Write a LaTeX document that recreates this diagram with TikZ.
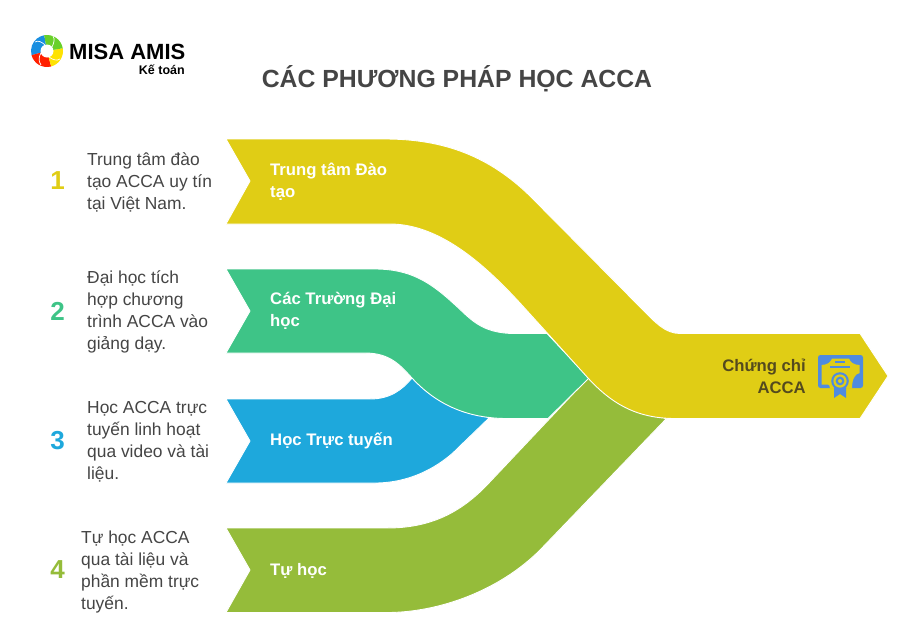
\documentclass[tikz,border=0pt]{standalone}
\usepackage{fontspec}
\setmainfont{Liberation Sans}
\definecolor{trackyellow}{HTML}{E0CD15}
\definecolor{trackgreen}{HTML}{3EC487}
\definecolor{trackblue}{HTML}{1EA8DC}
\definecolor{trackolive}{HTML}{95BC3A}
\definecolor{bodygrey}{HTML}{454545}
\definecolor{goalbrown}{HTML}{544A1E}
\definecolor{iconblue}{HTML}{4F8BE0}
\tikzset{
  track/.style={draw=white, line width=0.9pt, line join=round},
  numlabel/.style={inner sep=0pt, font=\fontsize{26}{26}\selectfont\bfseries},
  bodytext/.style={inner sep=0pt, anchor=west, align=left, text=bodygrey, font=\fontsize{17.4}{22}\selectfont},
  tracktext/.style={inner sep=0pt, anchor=west, align=left, text=white, font=\fontsize{16.7}{22}\selectfont\bfseries},
}
\begin{document}
\begin{tikzpicture}[x=1pt, y=-1pt]
    \useasboundingbox (0,0) rectangle (917,643);
    \fill[white] (0,0) rectangle (917,643);

    % Logo
    \coordinate (L) at (47,51);
    \fill[trackblue!85!blue] (L) -- ++(-100:16) arc[start angle=-100, end angle=-195, radius=16] -- cycle;
    \fill[red!75!orange] (L) -- ++(-195:16) arc[start angle=-195, end angle=-285, radius=16] -- cycle;
    \fill[yellow!85!orange] (L) -- ++(75:16) arc[start angle=75, end angle=-10, radius=16] -- cycle;
    \fill[trackolive!70!green] (L) -- ++(-10:16) arc[start angle=-10, end angle=-100, radius=16] -- cycle;
    \fill[white] (L) circle (6.5);
    \draw[white, line width=0.7pt] (35,42) .. controls (38,40) and (42,42) .. (45,45);
    \draw[white, line width=0.7pt] (53,36) .. controls (55,39) and (54,43) .. (52,47);
    \draw[white, line width=0.7pt] (60,59) .. controls (57,61) and (53,60) .. (49,57);
    \draw[white, line width=0.7pt] (41,65) .. controls (38,61) and (39,56) .. (41,53);
    \node[inner sep=0pt, anchor=west, font=\fontsize{22}{22}\selectfont\bfseries] (brand) at (69,52) {MISA AMIS};
    \node[inner sep=0pt, anchor=east, font=\fontsize{12.5}{12.5}\selectfont\bfseries] (brandsub) at (185,70) {Kế toán};

    % Title
    \node[inner sep=0pt, text=bodygrey, font=\fontsize{24.8}{26}\selectfont\bfseries] (title) at (457,79) {CÁC PHƯƠNG PHÁP HỌC ACCA};

    % Blue track
    \path[track, fill=trackblue] (226,399) -- (250,441) -- (226,483) -- (375,483)
        .. controls (410,483) and (440,467) .. (460,446) -- (489,418)
        -- (440,395) -- (412,378) .. controls (402,390) and (390,399) .. (370,399) -- cycle;

    % Olive track
    \path[track, fill=trackolive] (226,528) -- (250,570) -- (226,612.5) -- (387,612.5)
        .. controls (440,612.5) and (500,590) .. (540,550) -- (666,419)
        -- (588,378) -- (487,485) .. controls (460,513) and (430,528) .. (387,528) -- cycle;

    % Green track
    \path[track, fill=trackgreen] (226,269) -- (250,311) -- (226,353) -- (365,353)
        .. controls (390,353) and (400,365) .. (412,378)
        .. controls (435,403) and (465,418) .. (505,418.5) -- (548,418.5) -- (589,378) -- (547,333.5) -- (515,333.5)
        .. controls (480,333.5) and (470,318) .. (453,303)
        .. controls (430,282) and (410,269) .. (375,269) -- cycle;

    % Yellow track
    \path[track, fill=trackyellow] (226,139) -- (250,181) -- (226,224) -- (390,224)
        .. controls (440,224) and (485,265) .. (520,303) -- (588,378)
        .. controls (610,402) and (635,418.5) .. (675,418.5) -- (860,418.5) -- (888,376) -- (860,333.5) -- (680,333.5)
        .. controls (665,333.5) and (655,322) .. (643,310) -- (530,196)
        .. controls (490,157) and (445,139) .. (385,139) -- cycle;

    % Numbers and left texts
    \foreach \n/\ypos/\clr in {1/181/trackyellow, 2/311/trackgreen, 3/441/trackblue, 4/570/trackolive} {
        \node[numlabel, text=\clr] (num\n) at (57.5,\ypos) {\n};
    }
    \node[bodytext] (desc1) at (87,182) {Trung tâm đào\\tạo ACCA uy tín\\tại Việt Nam.};
    \node[bodytext] (desc2) at (87,311.5) {Đại học tích\\hợp chương\\trình ACCA vào\\giảng dạy.};
    \node[bodytext] (desc3) at (87,441.5) {Học ACCA trực\\tuyến linh hoạt\\qua video và tài\\liệu.};
    \node[bodytext] (desc4) at (81,571.5) {Tự học ACCA\\qua tài liệu và\\phần mềm trực\\tuyến.};

    % Track labels
    \node[tracktext] (label1) at (270,182) {Trung tâm Đào\\tạo};
    \node[tracktext] (label2) at (270,311) {Các Trường Đại\\học};
    \node[tracktext] (label3) at (270,441) {Học Trực tuyến};
    \node[tracktext] (label4) at (270,571) {Tự học};
    \node[inner sep=0pt, anchor=east, align=right, text=goalbrown, font=\fontsize{16.7}{22}\selectfont\bfseries] (goal) at (806,376.5) {Chứng chỉ\\ACCA};

    % Certificate icon
    \fill[iconblue, rounded corners=2.5pt] (818,355) rectangle (863,388);
    \fill[trackyellow] (832,358.5) -- (849,358.5) .. controls (850,362) and (854,365) .. (859.5,365)
        -- (859.5,373) .. controls (855,374) and (852,379) .. (852,388.5) -- (830,388.5)
        .. controls (830,386) and (829,384.5) .. (828,384.5) -- (821.5,384.5) -- (821.5,365)
        .. controls (827,365) and (831,362) .. (832,358.5) -- cycle;
    \fill[iconblue] (835,360.8) rectangle (845,362.8);
    \fill[iconblue] (830,365.8) rectangle (850,367.8);
    \fill[iconblue] (834,385) -- (834,398) -- (840,394) -- (846,398) -- (846,385) -- cycle;
    \fill[iconblue] (840,381) circle (8.8);
    \fill[trackyellow] (840,381) circle (6.6);
    \fill[iconblue] (840,381) circle (4.4);
    \fill[trackyellow] (840,381) circle (2);
\end{tikzpicture}
\end{document}
